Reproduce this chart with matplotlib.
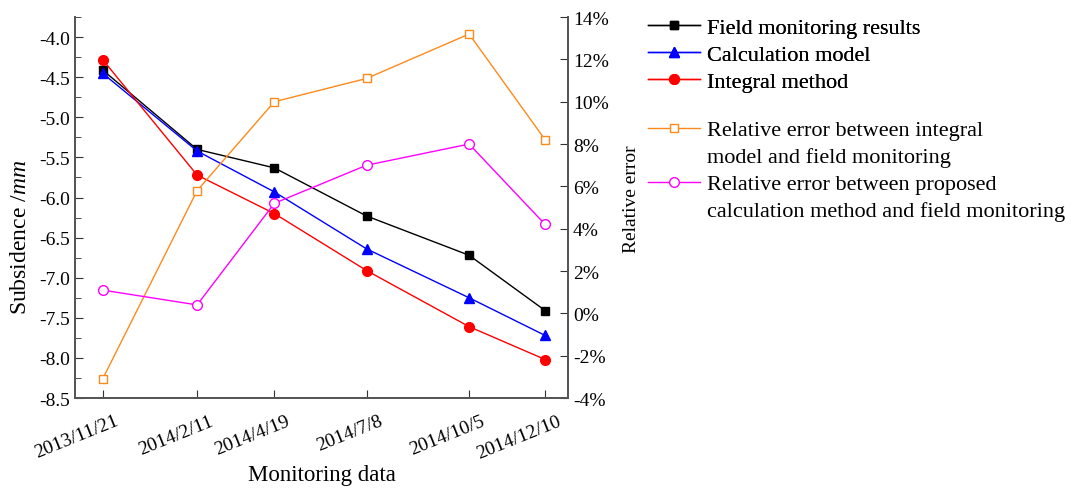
import datetime as dt
import matplotlib
matplotlib.use("Agg")
import matplotlib.pyplot as plt
import matplotlib.transforms as mtransforms
from matplotlib.lines import Line2D
from matplotlib.ticker import MultipleLocator, FuncFormatter, NullFormatter

plt.rcParams['font.family'] = ['Liberation Serif', 'DejaVu Serif']
plt.rcParams['mathtext.fontset'] = 'custom'
plt.rcParams['mathtext.rm'] = 'Liberation Serif'
plt.rcParams['mathtext.it'] = 'Liberation Serif:italic'

dates = ["2013/11/21", "2014/2/11", "2014/4/19", "2014/7/8", "2014/10/5", "2014/12/10"]
field = [-4.41, -5.40, -5.63, -6.23, -6.72, -7.41]
calc_model = [-4.45, -5.42, -5.93, -6.64, -7.25, -7.72]
integral = [-4.28, -5.72, -6.20, -6.91, -7.61, -8.02]
err_integral = [-3.1, 5.8, 10.0, 11.1, 13.2, 8.2]
err_proposed = [1.1, 0.4, 5.2, 7.0, 8.0, 4.2]

x = [dt.datetime.strptime(d, "%Y/%m/%d") for d in dates]

fig = plt.figure(figsize=(10.77, 4.89), dpi=100)
ax = fig.add_axes([0.0696, 0.184, 0.458, 0.779])
ax2 = ax.twinx()

h1, = ax.plot(x, field, color='black', marker='s', ms=6, lw=1, label='Field monitoring results')
h2, = ax.plot(x, calc_model, color='blue', marker='^', ms=7, lw=1, label='Calculation model')
h3, = ax.plot(x, integral, color='red', marker='o', ms=7, lw=1, label='Integral method')
h4, = ax2.plot(x, err_integral, color='#ff8a1c', marker='s', ms=6, mfc='white', lw=1,
               label='Relative error between integral')
h5, = ax2.plot(x, err_proposed, color='#ff00ff', marker='o', ms=7, mfc='white', lw=1,
               label='Relative error between proposed')
blank = Line2D([], [], color='none')

ax.set_ylim(-8.5, -3.75)
ax.yaxis.set_major_locator(MultipleLocator(0.5))
ax.yaxis.set_minor_locator(MultipleLocator(0.25))
ax.yaxis.set_major_formatter(FuncFormatter(lambda v, p: f"{v:.1f}"))
ax2.set_ylim(-4, 14)
ax2.yaxis.set_major_locator(MultipleLocator(2))
ax2.yaxis.set_major_formatter(FuncFormatter(lambda v, p: f"{v:.0f}%"))

ax.set_xlim(dt.datetime(2013, 10, 28), dt.datetime(2014, 12, 30))
ax.set_xticks(x)
ax.xaxis.set_major_formatter(NullFormatter())
ax.xaxis.set_minor_locator(plt.NullLocator())

# rotated date labels, right end sitting just past each tick
shift = mtransforms.ScaledTranslation(0.12, -0.14, fig.dpi_scale_trans)
for xi, d in zip(x, dates):
    ax.text(xi, 0, d, transform=ax.get_xaxis_transform() + shift, fontsize=14,
            rotation=22, rotation_mode='anchor', ha='right', va='top')

for a in (ax, ax2):
    a.spines['top'].set_visible(False)
    for s in a.spines.values():
        s.set_color('#555555')
        s.set_linewidth(1.3)
    a.tick_params(which='both', direction='in', labelsize=14, colors='#333333',
                  labelcolor='black')
ax.tick_params(axis='both', which='major', length=6)
ax.tick_params(axis='y', which='minor', length=4)
ax2.tick_params(axis='y', which='major', length=6)

ax.set_xlabel('Monitoring data', fontsize=16.5, labelpad=44)
ax.set_ylabel('Subsidence /$\\it{mm}$', fontsize=17, labelpad=6, y=0.423)
ax2.set_ylabel('Relative error', fontsize=14, labelpad=10, y=0.525)

leg_kw = dict(loc='upper left', frameon=False, fontsize=16, handlelength=2.35,
              handletextpad=0.3, labelspacing=0.29, borderpad=0, borderaxespad=0)
leg1 = fig.legend(handles=[h1, h2, h3], bbox_to_anchor=(0.6017, 0.963), **leg_kw)
fig.add_artist(leg1)
fig.legend(handles=[h4, blank, h5, blank],
           labels=['Relative error between integral', 'model and field monitoring',
                   'Relative error between proposed',
                   'calculation method and field monitoring'],
           bbox_to_anchor=(0.6017, 0.753), **leg_kw)

fig.savefig('out.png', dpi=100)
